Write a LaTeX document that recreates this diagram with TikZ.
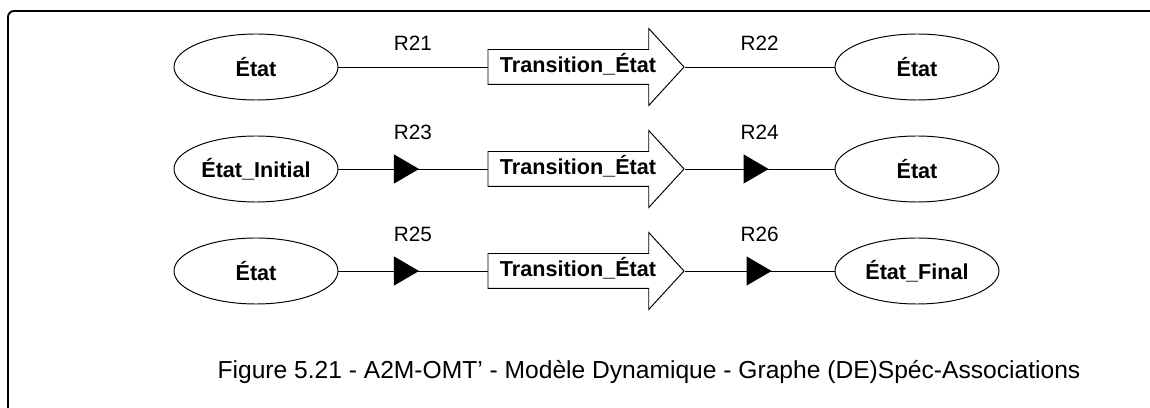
\documentclass[tikz,border=0pt]{standalone}
\usepackage{fontspec}
\setmainfont{Liberation Sans}
\usepackage{tikz}
\usetikzlibrary{arrows.meta,positioning,shapes.geometric,shapes.arrows,decorations.markings}

\begin{document}
\begin{tikzpicture}[x=0.2mm,y=-0.2mm,line width=0.55pt,
  every node/.style={font=\fontsize{12.3}{14}\selectfont\bfseries,align=center},
  etat/.style={draw,ellipse,minimum width=32.8mm,minimum height=13.2mm,inner sep=0pt},
  trans/.style={draw,single arrow,single arrow head extend=4.2mm,single arrow tip angle=95,minimum height=39.2mm,text height=3mm,text depth=0.8mm,inner ysep=1.5mm,inner xsep=1mm},
  fleche/.style={postaction={decorate},decoration={markings,mark=at position #1 with {\arrow{Triangle[length=5mm,width=5.8mm]}}}},
  role/.style={font=\fontsize{11.8}{13}\selectfont,above=#1},
  role/.default=2mm]
\useasboundingbox (0,0) rectangle (1150,408);
\draw[line width=1.1pt,rounded corners=1.2mm] (1150,11) -- (8,11) -- (8,408);
% ligne 1
\node[etat] (e11) at (256,67) {État};
\node[trans] (t1) at (578,67) {Transition\_État};
\node[etat] (e12) at (917,67) {État};
\draw (e11) -- node[role]{R21} (t1.tail);
\draw (t1.tip) -- node[role]{R22} (e12);
% ligne 2
\node[etat] (e21) at (256,169) {État\_Initial};
\node[trans] (t2) at (578,169) {Transition\_État};
\node[etat] (e22) at (917,169) {État};
\draw[fleche=0.54] (e21) -- node[role=4.6mm]{R23} (t2.tail);
\draw[fleche=0.56] (t2.tip) -- node[role=4.6mm]{R24} (e22);
% ligne 3
\node[etat] (e31) at (256,271) {État};
\node[trans] (t3) at (578,271) {Transition\_État};
\node[etat] (e32) at (917,271) {État\_Final};
\draw[fleche=0.54] (e31) -- node[role=4.6mm]{R25} (t3.tail);
\draw[fleche=0.58] (t3.tip) -- node[role=4.6mm]{R26} (e32);
% legende
\node[font=\fontsize{14}{16}\selectfont] (leg) at (649,372) {Figure 5.21 - A2M-OMT’ - Modèle Dynamique - Graphe (DE)Spéc-Associations};
\end{tikzpicture}
\end{document}
